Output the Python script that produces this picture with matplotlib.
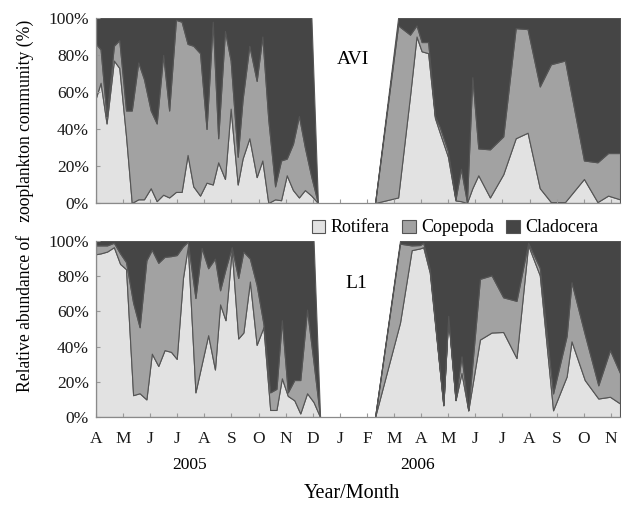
"""Relative abundance of zooplankton groups (Rotifera / Copepoda / Cladocera)
at stations AVI and L1, April 2005 - November 2006, as 100% stacked areas."""

import matplotlib

matplotlib.use("Agg")
import matplotlib.pyplot as plt
from matplotlib.patches import Patch

plt.rcParams["font.family"] = ["Liberation Serif", "DejaVu Serif"]

MONTH_LABELS = ["A", "M", "J", "J", "A", "S", "O", "N", "D", "J",
                "F", "M", "A", "M", "J", "J", "A", "S", "O", "N"]
GROUPS = ["Rotifera", "Copepoda", "Cladocera"]
COLORS = ["#e2e2e2", "#a2a2a2", "#454545"]
EDGE = "#555555"

# x = months since April 2005 (0 = Apr 2005, 19 = Nov 2006); values in %.
# --- AVI ---
avi_x_2005 = [0.00, 0.17, 0.39, 0.66, 0.86, 1.11, 1.32, 1.56, 1.77, 2.02, 2.24, 2.48,
              2.70, 2.95, 3.16, 3.38, 3.59, 3.84, 4.08, 4.31, 4.51, 4.76, 4.97, 5.23,
              5.41, 5.66, 5.93, 6.14, 6.36, 6.61, 6.83, 7.04, 7.27, 7.49, 7.71, 7.95, 8.19]
avi_rot_2005 = [57, 65, 43, 77, 73, 36, 0, 2, 2, 8, 1, 4.5, 3, 6, 6, 26, 9, 4, 11, 10, 22,
                13, 51, 10, 24, 35, 14, 23, 0, 2, 1.5, 15, 7, 3, 7, 4, 0]
avi_cop_2005 = [29, 18, 4, 8, 15, 14, 50, 74, 65, 42, 42, 75.5, 47, 93, 92, 60, 76, 77, 29,
                88, 13, 80, 26, 15, 32, 50, 52, 67, 45, 7, 21.5, 9, 25, 44, 23, 10, 0]
avi_cla_2005 = [14, 17, 53, 15, 12, 50, 50, 24, 33, 50, 57, 20, 50, 1, 2, 14, 15, 19, 60,
                2, 65, 7, 23, 75, 44, 15, 34, 10, 55, 91, 77, 76, 68, 53, 70, 86, 0]

avi_x_2006 = [10.30, 11.15, 11.59, 11.83, 12.02, 12.26, 12.51, 12.69, 12.99, 13.27, 13.47,
              13.69, 13.89, 14.11, 14.54, 15.03, 15.49, 15.93, 16.38, 16.79, 17.31, 18.01,
              18.51, 18.90, 19.34]
avi_rot_2006 = [0, 3, 58, 90, 82, 81, 46, 38, 25, 1.4, 1, 0, 8, 15, 3, 15.5, 35, 38, 8,
                0.5, 0.5, 13, 0.5, 4, 2]
avi_cop_2006 = [0, 93, 33, 6, 5, 6, 1, 3, 3, 0.6, 17.5, 0.5, 60, 14.5, 26, 20.5, 59.5, 56,
                55, 74.5, 76.5, 10, 21.5, 23, 25]
avi_cla_2006 = [0, 4, 9, 4, 13, 13, 53, 59, 72, 98, 81.5, 99.5, 32, 70.5, 71, 64, 5.5, 6,
                37, 25, 23, 77, 78, 73, 73]

# --- L1 ---
l1_x_2005 = [0.00, 0.18, 0.41, 0.66, 0.89, 1.11, 1.37, 1.61, 1.86, 2.06, 2.30, 2.53, 2.77,
             2.98, 3.21, 3.39, 3.67, 3.90, 4.14, 4.39, 4.58, 4.78, 5.01, 5.25, 5.44, 5.68,
             5.93, 6.18, 6.43, 6.66, 6.86, 7.08, 7.32, 7.54, 7.79, 8.03, 8.27]
l1_rot_2005 = [92.5, 93, 94, 96.5, 87, 84, 12.4, 13.5, 10, 36, 29, 38, 37, 33, 79, 97, 14,
               30, 46.5, 27, 64, 55, 95, 44.6, 48, 77, 41, 51, 4, 4, 22, 12, 9.5, 2, 13.5,
               8.5, 0]
l1_cop_2005 = [5, 4.5, 3.5, 2.5, 6, 4, 52.6, 37.5, 79, 59, 58.6, 53, 54.4, 59, 18, 2.6,
               53.6, 66, 38, 63, 8, 29, 1.5, 34.4, 46, 13, 34, 2, 10, 12, 33, 2, 11.5, 19,
               47.5, 22.5, 0]
l1_cla_2005 = [2.5, 2.5, 2.5, 1, 7, 12, 35, 49, 11, 5, 12.4, 9, 8.6, 8, 3, 0.4, 32.4, 4,
               15.5, 10, 28, 16, 3.5, 21, 6, 10, 25, 47, 86, 84, 45, 86, 79, 79, 39, 69, 0]

l1_x_2006 = [10.30, 11.22, 11.65, 11.96, 12.08, 12.32, 12.82, 13.00, 13.27, 13.49, 13.74,
             14.17, 14.60, 15.03, 15.52, 15.95, 16.38, 16.87, 17.37, 17.55, 18.04, 18.54,
             18.97, 19.34]
l1_rot_2006 = [0, 53.6, 94.8, 95.8, 96.5, 82, 6.7, 56.5, 9.6, 25, 3.8, 44, 48, 48.3, 33.5,
               97.7, 80.5, 3.8, 23, 43, 21, 10.5, 11.5, 7.7]
l1_cop_2006 = [0, 44.9, 2.7, 1.9, 2.5, 2, 0, 1, 0, 9.5, 0, 34.5, 32.5, 19.7, 32.5, 1.3,
               4.2, 9.6, 23, 33.6, 26, 7.5, 26.5, 17.3]
l1_cla_2006 = [0, 1.5, 2.5, 2.3, 1, 16, 93.3, 42.5, 90.4, 65.5, 96.2, 21.5, 19.5, 32, 34,
               1, 15.3, 86.6, 54, 23.4, 53, 82, 62, 75]

PANELS = [
    ("AVI", [(avi_x_2005, avi_rot_2005, avi_cop_2005, avi_cla_2005),
             (avi_x_2006, avi_rot_2006, avi_cop_2006, avi_cla_2006)]),
    ("L1", [(l1_x_2005, l1_rot_2005, l1_cop_2005, l1_cla_2005),
            (l1_x_2006, l1_rot_2006, l1_cop_2006, l1_cla_2006)]),
]

W, H = 627, 505
fig = plt.figure(figsize=(W / 100, H / 100), dpi=100)
ax_top = fig.add_axes([96 / W, 1 - 203 / H, 524 / W, 185 / H])
ax_bot = fig.add_axes([96 / W, 1 - 417 / H, 524 / W, 176 / H])

for ax, (name, segments) in zip([ax_top, ax_bot], PANELS):
    for x, rot, cop, cla in segments:
        ax.stackplot(x, rot, cop, cla, colors=COLORS, edgecolor=EDGE, linewidth=0.8)
    ax.set_xlim(0, 19.34)
    ax.set_ylim(0, 100)
    ax.set_yticks(range(0, 101, 20))
    ax.set_yticklabels([f"{v}%" for v in range(0, 101, 20)])
    ax.set_xticks(range(20))
    ax.tick_params(direction="in", length=3, color="#999999", labelsize=12.5,
                   labelcolor="#1a1a1a")
    ax.tick_params(axis="y", pad=5)
    for side in ("top", "right"):
        ax.spines[side].set_visible(False)
    for side in ("left", "bottom"):
        ax.spines[side].set_color("#8a8a8a")
        ax.spines[side].set_linewidth(0.9)

ax_top.set_xticklabels([])
ax_bot.set_xticklabels(MONTH_LABELS)
ax_bot.tick_params(axis="x", pad=10)

fig.text(353 / W, 1 - 60 / H, "AVI", fontsize=14, ha="center", va="center")
fig.text(356 / W, 1 - 284 / H, "L1", fontsize=14, ha="center", va="center")

fig.text(190 / W, 1 - 465 / H, "2005", fontsize=12.5, ha="center", va="center")
fig.text(418 / W, 1 - 465 / H, "2006", fontsize=12.5, ha="center", va="center")
fig.text(352 / W, 1 - 494 / H, "Year/Month", fontsize=14.5, ha="center", va="center")
fig.text(25 / W, 1 - 206 / H, "Relative abundance of   zooplankton community (%)",
         fontsize=12.7, rotation=90, ha="center", va="center")

handles = [Patch(facecolor=c, edgecolor=EDGE, linewidth=0.8) for c in COLORS]
fig.legend(handles, GROUPS, loc="center", bbox_to_anchor=(455 / W, 1 - 228 / H), ncol=3,
           frameon=False, fontsize=13, handlelength=0.75, handleheight=0.75,
           handletextpad=0.3, columnspacing=0.7, borderpad=0)

fig.savefig("out.png", dpi=100)
